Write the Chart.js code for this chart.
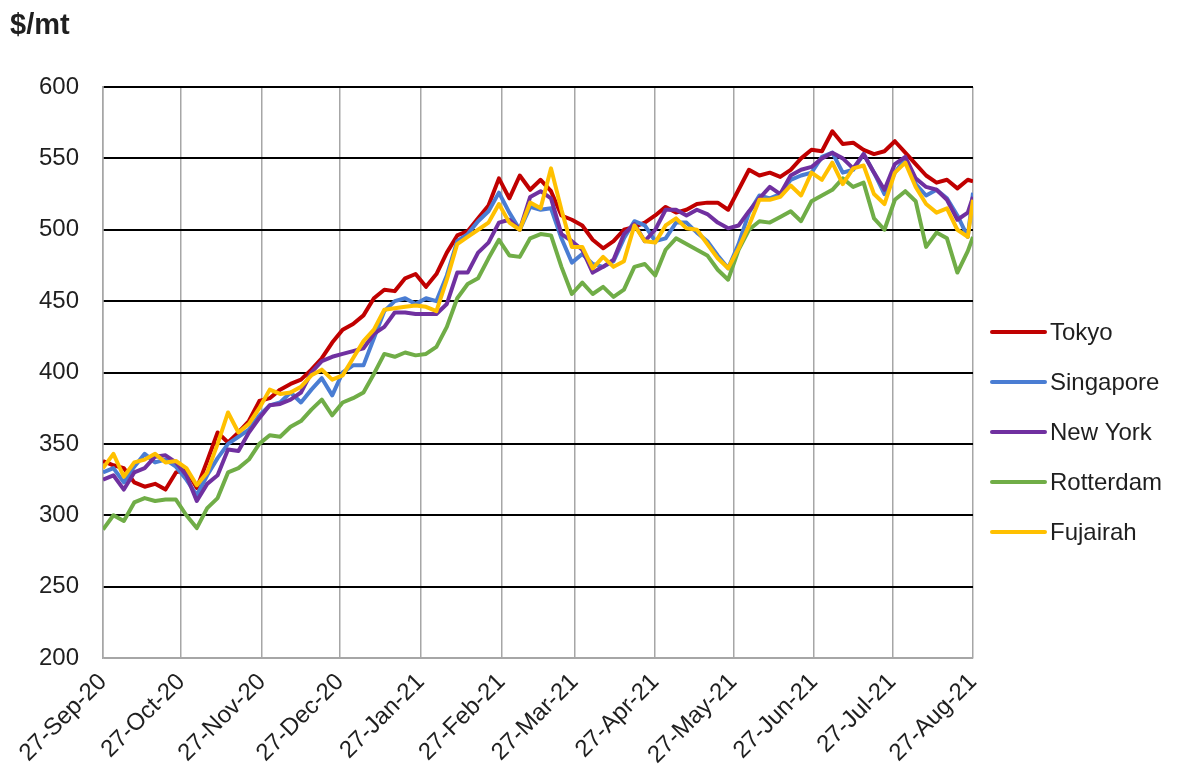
<!DOCTYPE html>
<html><head><meta charset="utf-8">
<script src="https://cdn.jsdelivr.net/npm/chart.js@4/dist/chart.umd.min.js"></script>
<style>html,body{margin:0;padding:0;background:#fff;} canvas{display:block}</style>
</head><body>
<canvas id="c" width="1183" height="772"></canvas>
<script>
// Days since 27-Sep-20
const days = [0,4,8,12,16,20,24,28,32,36,40,44,48,52,56,60,64,68,72,76,80,84,88,92,96,100,104,108,112,116,120,124,128,132,136,140,144,148,152,156,160,164,168,172,176,180,184,188,192,196,200,204,208,212,216,220,224,228,232,236,240,244,248,252,256,260,264,268,272,276,280,284,288,292,296,300,304,308,312,316,320,324,328,332,334];

const tokyo = [338,335,333,323,320,322,318,330,332,319,338,358,351,358,366,380,382,388,392,395,402,410,421,430,434,440,452,458,457,466,469,460,469,484,496,499,508,517,536,522,538,528,535,527,510,507,503,493,487,492,500,502,505,510,516,512,514,518,519,519,514,528,542,538,540,537,542,550,556,555,569,560,561,556,553,555,562,554,546,538,533,535,529,535,534];
const singapore = [330,333,323,334,343,337,339,334,325,314,328,340,350,355,360,370,377,379,386,379,388,396,384,400,405,405,424,443,450,452,448,452,450,468,492,497,506,513,526,512,500,516,514,515,494,477,483,476,474,478,494,506,503,492,494,505,505,498,492,482,473,490,512,524,522,525,535,538,540,551,554,540,542,553,540,525,540,550,532,524,528,522,510,495,526];
const newYork = [325,328,318,330,333,341,342,337,328,310,322,328,346,345,358,368,377,378,381,386,400,408,411,413,415,417,427,432,442,442,441,441,441,448,470,470,484,491,505,507,500,523,527,522,497,492,486,470,474,479,497,504,492,500,514,514,510,514,511,505,501,503,513,522,530,525,538,542,544,550,554,550,543,553,540,528,546,551,536,530,528,521,507,512,523];
const rotterdam = [290,300,296,309,312,310,311,311,300,291,305,312,330,333,339,350,356,355,362,366,374,381,370,379,382,386,399,413,411,414,412,413,418,432,452,462,466,480,493,482,481,494,497,496,474,455,463,455,460,453,458,474,476,468,486,494,490,486,482,472,465,486,500,506,505,509,513,506,520,524,528,536,530,533,508,500,521,527,520,488,498,494,470,485,495];
const fujairah = [333,343,327,337,339,343,337,338,333,321,330,350,372,358,364,375,388,385,386,390,398,402,395,398,410,422,430,444,445,446,447,446,443,465,490,495,500,505,518,505,500,519,515,543,514,488,488,473,481,474,478,503,492,491,503,508,501,500,490,480,473,487,503,521,521,523,531,524,540,535,547,532,543,545,525,518,540,547,530,518,512,515,500,495,521];

const seriesNames = ['Tokyo','Singapore','New York','Rotterdam','Fujairah'];
const seriesColors = ['#C00000','#4A7DD3','#7030A0','#70AD47','#FFC000'];
const seriesValues = [tokyo, singapore, newYork, rotterdam, fujairah];

const tickDays = [0,30,61,91,122,153,181,212,242,273,303,334];
const tickLabels = ['27-Sep-20','27-Oct-20','27-Nov-20','27-Dec-20','27-Jan-21','27-Feb-21','27-Mar-21','27-Apr-21','27-May-21','27-Jun-21','27-Jul-21','27-Aug-21'];
const yTicks = [200,250,300,350,400,450,500,550,600];
const unitLabel = '$/mt';

const FONT = "'Liberation Sans', Arial, sans-serif";
const TXT = '#1f1f1f';

const datasets = seriesNames.map((n, i) => ({
  label: n,
  data: days.map((d, j) => ({x: d, y: seriesValues[i][j]})),
  borderColor: seriesColors[i],
  backgroundColor: seriesColors[i],
  borderWidth: 4,
  pointRadius: 0,
  tension: 0,
  fill: false,
  borderJoinStyle: 'round',
  order: seriesNames.length - i
}));

const extras = {
  id: 'extras',
  afterDraw(chart) {
    const ctx = chart.ctx;
    ctx.save();
    ctx.fillStyle = TXT;
    ctx.font = "bold 29px " + FONT;
    ctx.textBaseline = 'alphabetic';
    ctx.textAlign = 'left';
    ctx.fillText(unitLabel, 10, 34);
    ctx.font = "24px " + FONT;
    ctx.textBaseline = 'middle';
    seriesNames.forEach((n, i) => {
      const y = 332 + i * 50;
      ctx.strokeStyle = seriesColors[i];
      ctx.lineWidth = 4;
      ctx.lineCap = 'round';
      ctx.beginPath();
      ctx.moveTo(992, y);
      ctx.lineTo(1045, y);
      ctx.stroke();
      ctx.fillStyle = TXT;
      ctx.fillText(n, 1050, y + 1);
    });
    ctx.restore();
  }
};

new Chart(document.getElementById('c'), {
  type: 'line',
  data: { datasets },
  options: {
    responsive: false,
    animation: false,
    layout: { padding: { top: 87, right: 210, left: 0, bottom: 0 } },
    plugins: { legend: { display: false }, tooltip: { enabled: false } },
    scales: {
      x: {
        type: 'linear',
        min: 0, max: 334,
        afterBuildTicks(scale) { scale.ticks = tickDays.map(v => ({value: v})); },
        afterFit(scale) { scale.height = 114; },
        ticks: {
          autoSkip: false, minRotation: 45, maxRotation: 45, padding: 10,
          color: TXT, font: { family: FONT, size: 24 },
          callback(value) { const k = tickDays.indexOf(value); return k >= 0 ? tickLabels[k] : ''; }
        },
        grid: { color: '#A6A6A6', lineWidth: 1.5, drawTicks: false },
        border: { color: '#A6A6A6', width: 1.5 }
      },
      y: {
        min: 200, max: 600,
        afterBuildTicks(scale) { scale.ticks = yTicks.map(v => ({value: v})); },
        afterFit(scale) { scale.width = 103; },
        ticks: { padding: 24, color: TXT, font: { family: FONT, size: 24 } },
        grid: {
          drawTicks: false,
          color: (c) => c.tick && c.tick.value === 200 ? '#A6A6A6' : '#000000',
          lineWidth: 2
        },
        border: { color: '#A6A6A6', width: 1.5 }
      }
    }
  },
  plugins: [extras]
});
</script>
</body></html>
